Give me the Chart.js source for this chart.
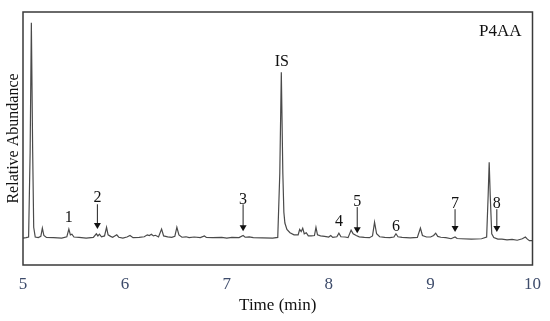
<!DOCTYPE html>
<html>
<head>
<meta charset="utf-8">
<script src="https://cdn.jsdelivr.net/npm/chart.js@4"></script>
<style>
  html, body { margin: 0; padding: 0; background: #fff; }
  #wrap { width: 550px; height: 321px; }
</style>
</head>
<body>
<div id="wrap"><canvas id="chromatogram"></canvas></div>
<script>
// retention time (min) and relative abundance
const times = [
  5.00, 5.03, 5.055, 5.07, 5.082, 5.095, 5.105, 5.12, 5.15, 5.175, 5.19, 5.205, 5.23, 5.30, 5.38,
  5.43, 5.45, 5.465, 5.48, 5.50, 5.55, 5.62, 5.69, 5.72, 5.735, 5.75, 5.77, 5.80, 5.82, 5.835,
  5.86, 5.88, 5.92, 5.94, 5.98, 6.02, 6.05, 6.08, 6.14, 6.19, 6.22, 6.24, 6.26, 6.28, 6.30,
  6.33, 6.36, 6.38, 6.42, 6.46, 6.49, 6.51, 6.53, 6.56, 6.60, 6.63, 6.68, 6.74, 6.78, 6.80,
  6.86, 6.95, 7.00, 7.05, 7.12, 7.16, 7.18, 7.22, 7.26, 7.35, 7.45, 7.50, 7.52, 7.535, 7.55,
  7.56, 7.57, 7.59, 7.62, 7.66, 7.70, 7.715, 7.73, 7.745, 7.76, 7.78, 7.80, 7.83, 7.86, 7.875,
  7.89, 7.92, 7.96, 8.00, 8.02, 8.04, 8.08, 8.10, 8.12, 8.16, 8.19, 8.22, 8.24, 8.27, 8.30,
  8.35, 8.40, 8.43, 8.45, 8.47, 8.50, 8.55, 8.60, 8.64, 8.66, 8.68, 8.72, 8.80, 8.87, 8.90,
  8.92, 8.96, 9.00, 9.03, 9.05, 9.07, 9.10, 9.15, 9.20, 9.24, 9.26, 9.30, 9.40, 9.50, 9.55,
  9.565, 9.575, 9.585, 9.60, 9.62, 9.66, 9.70, 9.75, 9.80, 9.85, 9.90, 9.93, 9.95, 9.97, 10.0
];
const abundance = [
  0.0, 0.2, 0.5, 40, 100, 40, 5, 0.5, 0.2, 0.8, 4.6, 1.2, 0.3, 0.2, 0.0,
  0.6, 4.2, 1.5, 1.8, 0.5, 0.3, 0.0, 0.3, 2.0, 1.0, 1.8, 0.6, 1.0, 5.0, 1.5,
  0.8, 0.4, 1.5, 0.4, 0.0, 0.5, 1.2, 0.2, 0.3, 0.6, 1.5, 1.2, 1.8, 1.0, 1.3,
  0.5, 4.2, 1.0, 0.6, 0.3, 0.8, 5.0, 1.5, 0.4, 0.6, 0.2, 0.5, 0.2, 1.0, 0.3,
  0.2, 0.3, 0.0, 0.3, 0.2, 1.2, 0.4, 0.6, 0.2, 0.1, 0.0, 0.3, 30, 77, 30,
  12, 7, 4, 2.5, 1.5, 1.5, 4.0, 3.0, 4.6, 2.0, 2.5, 1.0, 1.0, 1.2, 5.0,
  1.5, 1.0, 0.8, 0.5, 1.2, 0.3, 0.6, 2.3, 0.6, 0.5, 0.2, 3.7, 2.0, 1.2, 0.6,
  0.3, 0.2, 1.0, 7.4, 2.0, 0.6, 0.3, 0.2, 0.5, 2.0, 0.6, 0.3, 0.1, 0.3, 4.6,
  1.2, 0.5, 0.5, 1.2, 2.3, 0.8, 0.4, 0.2, -0.3, 0.5, -0.2, -0.3, -0.5, -0.3, 0.5,
  20, 35.2, 20, 2, 0.3, -0.5, -0.5, -0.8, -0.6, -1.0, -0.3, 0.5, -0.5, -1.2, -1.2
];

const xTicks = [5, 6, 7, 8, 9, 10];

// peak annotations: label, time, label height, arrow (start, tip) or null
const markLabels = ['1', '2', '3', 'IS', '4', '5', '6', '7', '8'];
const markTimes = [5.45, 5.73, 7.16, 7.54, 8.10, 8.28, 8.66, 9.24, 9.65];
const markTextY = [9.3, 18.5, 17.6, 82, 7.4, 16.7, 5.1, 15.7, 15.7];
const markArrowFrom = [null, 15.7, 15.7, null, null, 14.4, null, 13.4, 13.4];
const markArrowTip = [null, 4.2, 3.2, null, null, 2.3, null, 2.8, 2.8];

const serif = '"Liberation Serif", "Times New Roman", serif';

const points = times.map((t, i) => ({ x: t, y: abundance[i] }));

const annotate = {
  id: 'annotate',
  afterDatasetsDraw(chart) {
    const { ctx, chartArea, scales } = chart;
    const xs = scales.x, ys = scales.y;
    ctx.save();
    // frame
    ctx.strokeStyle = '#3a3a3a';
    ctx.lineWidth = 1.5;
    ctx.strokeRect(chartArea.left, chartArea.top, chartArea.right - chartArea.left, chartArea.bottom - chartArea.top);

    ctx.fillStyle = '#111';
    ctx.textAlign = 'center';
    ctx.textBaseline = 'middle';
    markLabels.forEach((lab, i) => {
      const px = xs.getPixelForValue(markTimes[i]);
      ctx.font = '16px ' + serif;
      ctx.fillText(lab, px, ys.getPixelForValue(markTextY[i]));
      if (markArrowFrom[i] !== null) {
        const y0 = ys.getPixelForValue(markArrowFrom[i]);
        const y1 = ys.getPixelForValue(markArrowTip[i]);
        ctx.strokeStyle = '#222';
        ctx.lineWidth = 1;
        ctx.beginPath();
        ctx.moveTo(px, y0);
        ctx.lineTo(px, y1 - 5);
        ctx.stroke();
        ctx.beginPath();
        ctx.moveTo(px - 3.5, y1 - 6);
        ctx.lineTo(px + 3.5, y1 - 6);
        ctx.lineTo(px, y1);
        ctx.closePath();
        ctx.fill();
      }
    });

    ctx.font = '17px ' + serif;
    ctx.textAlign = 'right';
    ctx.fillText('P4AA', chartArea.right - 11, chartArea.top + 20);
    ctx.restore();
  }
};

new Chart(document.getElementById('chromatogram'), {
  type: 'line',
  data: {
    datasets: [{
      data: points,
      borderColor: '#4a4a4a',
      borderWidth: 1.2,
      pointRadius: 0,
      tension: 0,
      fill: false
    }]
  },
  options: {
    responsive: true,
    maintainAspectRatio: false,
    animation: false,
    layout: { padding: { top: 12, right: 15, bottom: 0, left: 0 } },
    plugins: {
      legend: { display: false },
      tooltip: { enabled: false }
    },
    scales: {
      x: {
        type: 'linear',
        min: 5,
        max: 10,
        afterBuildTicks: (axis) => { axis.ticks = xTicks.map(v => ({ value: v })); },
        grid: { display: false, drawTicks: false },
        border: { display: false },
        ticks: {
          color: '#3d4b6a',
          padding: 9,
          font: { family: serif, size: 17 }
        },
        title: {
          display: true,
          text: 'Time (min)',
          color: '#111',
          padding: { top: 2, bottom: 5 },
          font: { family: serif, size: 17 }
        },
        afterFit: (axis) => { axis.height = 56; }
      },
      y: {
        min: -12.5,
        max: 105,
        grid: { display: false, drawTicks: false },
        border: { display: false },
        ticks: { display: false },
        title: {
          display: true,
          text: 'Relative Abundance',
          color: '#111',
          padding: { top: 4, bottom: 0 },
          font: { family: serif, size: 16 }
        },
        afterFit: (axis) => { axis.width = 23; }
      }
    }
  },
  plugins: [annotate]
});
</script>
</body>
</html>
